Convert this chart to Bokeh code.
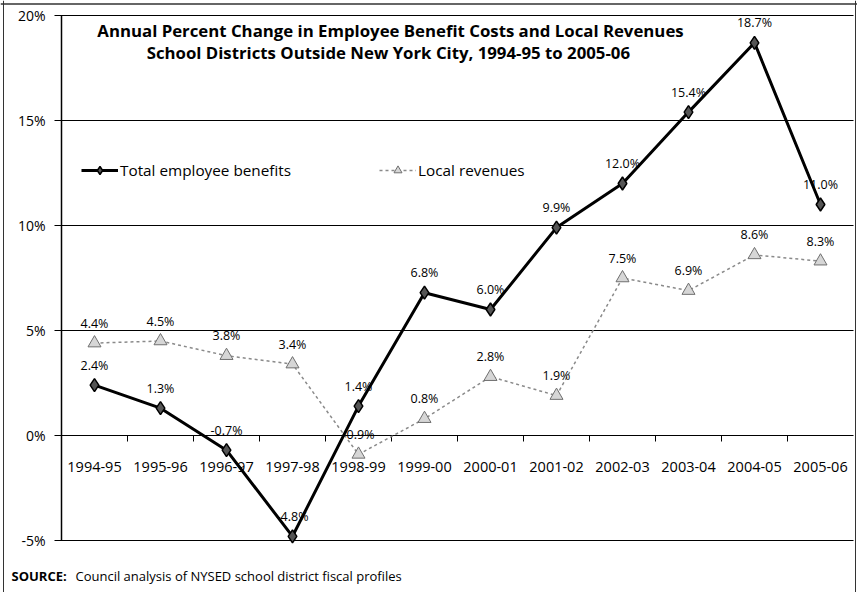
from bokeh.plotting import figure
from bokeh.models import Range1d, Label, Legend, LegendItem, ColumnDataSource, Span
from bokeh.core.properties import value
from bokeh.embed import file_html
from bokeh.resources import INLINE

years = ["1994-95", "1995-96", "1996-97", "1997-98", "1998-99", "1999-00",
         "2000-01", "2001-02", "2002-03", "2003-04", "2004-05", "2005-06"]
benefits = [2.4, 1.3, -0.7, -4.8, 1.4, 6.8, 6.0, 9.9, 12.0, 15.4, 18.7, 11.0]
local_rev = [4.4, 4.5, 3.8, 3.4, -0.9, 0.8, 2.8, 1.9, 7.5, 6.9, 8.6, 8.3]
y_ticks = [-5, 0, 5, 10, 15, 20]
y_tick_labels = ["-5%", "0%", "5%", "10%", "15%", "20%"]

FONT = "Open Sans"
xs = list(range(len(years)))

# ---- layout (pixels) ----
W, H = 857, 592
plot_left, plot_right = 61, 853
top_px = 15                  # pixel row of the top tick value
px_per_unit = 21.0
cat_w = (plot_right - plot_left) / len(years)
first_c = plot_left + cat_w / 2


def dx(px):  # page x pixel -> data x
    return (px - first_c) / cat_w


y_hi = max(y_ticks) + top_px / px_per_unit
y_lo = y_hi - H / px_per_unit
x_axis = dx(plot_left)
x_end = dx(plot_right)

p = figure(width=W, height=H, output_backend="svg", toolbar_location=None,
           x_range=Range1d(dx(0), dx(W)), y_range=Range1d(y_lo, y_hi),
           min_border_left=0, min_border_right=0, min_border_top=0, min_border_bottom=0)
p.outline_line_color = None
p.axis.visible = False
p.grid.visible = False

# outer chart border (left, top, right)
for loc, dim in ((dx(3), "height"), (dx(855), "height")):
    p.add_layout(Span(location=loc, dimension=dim, line_color="#333333", line_width=1))
p.add_layout(Span(location=y_hi - 3.5 / px_per_unit, dimension="width", line_color="#333333", line_width=1.5))

# horizontal gridlines with outward ticks
tick_x0 = x_axis - 7 / cat_w
p.segment(x0=[tick_x0] * len(y_ticks), y0=y_ticks, x1=[x_end] * len(y_ticks), y1=y_ticks,
          line_color="black", line_width=1)
# vertical axis line
p.segment(x0=[x_axis], y0=[min(y_ticks)], x1=[x_axis], y1=[max(y_ticks)], line_color="black", line_width=1.5)
# y tick labels
p.text(x=[x_axis] * len(y_ticks), y=y_ticks, text=y_tick_labels, text_font=value(FONT),
       text_font_size="14px", text_align="right", text_baseline="middle", x_offset=-16,
       text_color="black")

# category boundary tick marks on the zero line
bounds = [i + 0.5 for i in xs[:-1]]
p.segment(x0=bounds, y0=[0] * len(bounds), x1=bounds, y1=[-6 / px_per_unit] * len(bounds),
          line_color="black", line_width=1)

# category labels
p.text(x=xs, y=[0] * len(xs), text=years, text_font=value(FONT), text_font_size="14.5px",
       text_align="center", text_baseline="middle", y_offset=31, text_color="black")

src_b = ColumnDataSource(dict(x=xs, y=benefits, lab=[f"{v:.1f}%" for v in benefits]))
src_l = ColumnDataSource(dict(x=xs, y=local_rev, lab=[f"{v:.1f}%" for v in local_rev]))

l_line = p.line("x", "y", source=src_l, line_color="#8a8a8a", line_width=1.5, line_dash="3 3")
l_mark = p.scatter("x", "y", source=src_l, marker="triangle", size=13,
                   fill_color="#d6d6d6", line_color="#6f6f6f", line_width=1)
b_line = p.line("x", "y", source=src_b, line_color="black", line_width=3)
b_mark = p.scatter("x", "y", source=src_b, marker="diamond", size=13,
                   fill_color="#555555", line_color="black", line_width=1.5)

for s in (src_l, src_b):
    p.text("x", "y", text="lab", source=s, text_font=value(FONT), text_font_size="12.5px",
           text_align="center", text_baseline="middle", y_offset=-20, text_color="black")

legend = Legend(items=[LegendItem(label="Total employee benefits", renderers=[b_line, b_mark]),
                       LegendItem(label="Local revenues", renderers=[l_line, l_mark])],
                orientation="horizontal", location=(81, 412),
                border_line_color=None, background_fill_alpha=0,
                label_text_font=FONT, label_text_font_size="15.3px", label_text_color="black",
                glyph_width=37, spacing=88, label_standoff=2)
p.add_layout(legend)

for i, line in enumerate(["Annual Percent Change in Employee Benefit Costs and Local Revenues",
                          "School Districts Outside  New York City, 1994-95 to 2005-06"]):
    p.add_layout(Label(x=dx(390), y=max(y_ticks) - (15 + i * 22) / px_per_unit, text=line,
                       text_font=FONT, text_font_style="bold", text_font_size="16.8px",
                       text_color="black", text_align="center", text_baseline="middle"))

src_y = min(y_ticks) - 35 / px_per_unit
p.add_layout(Label(x=dx(11), y=src_y, text="SOURCE:", text_font=FONT,
                   text_font_style="bold", text_font_size="13px", text_color="black",
                   text_baseline="middle"))
p.add_layout(Label(x=dx(75), y=src_y,
                   text="Council analysis of NYSED school district fiscal profiles",
                   text_font=FONT, text_font_size="13px", text_color="black", text_baseline="middle"))

open("out.html", "w").write(file_html(p, INLINE))
